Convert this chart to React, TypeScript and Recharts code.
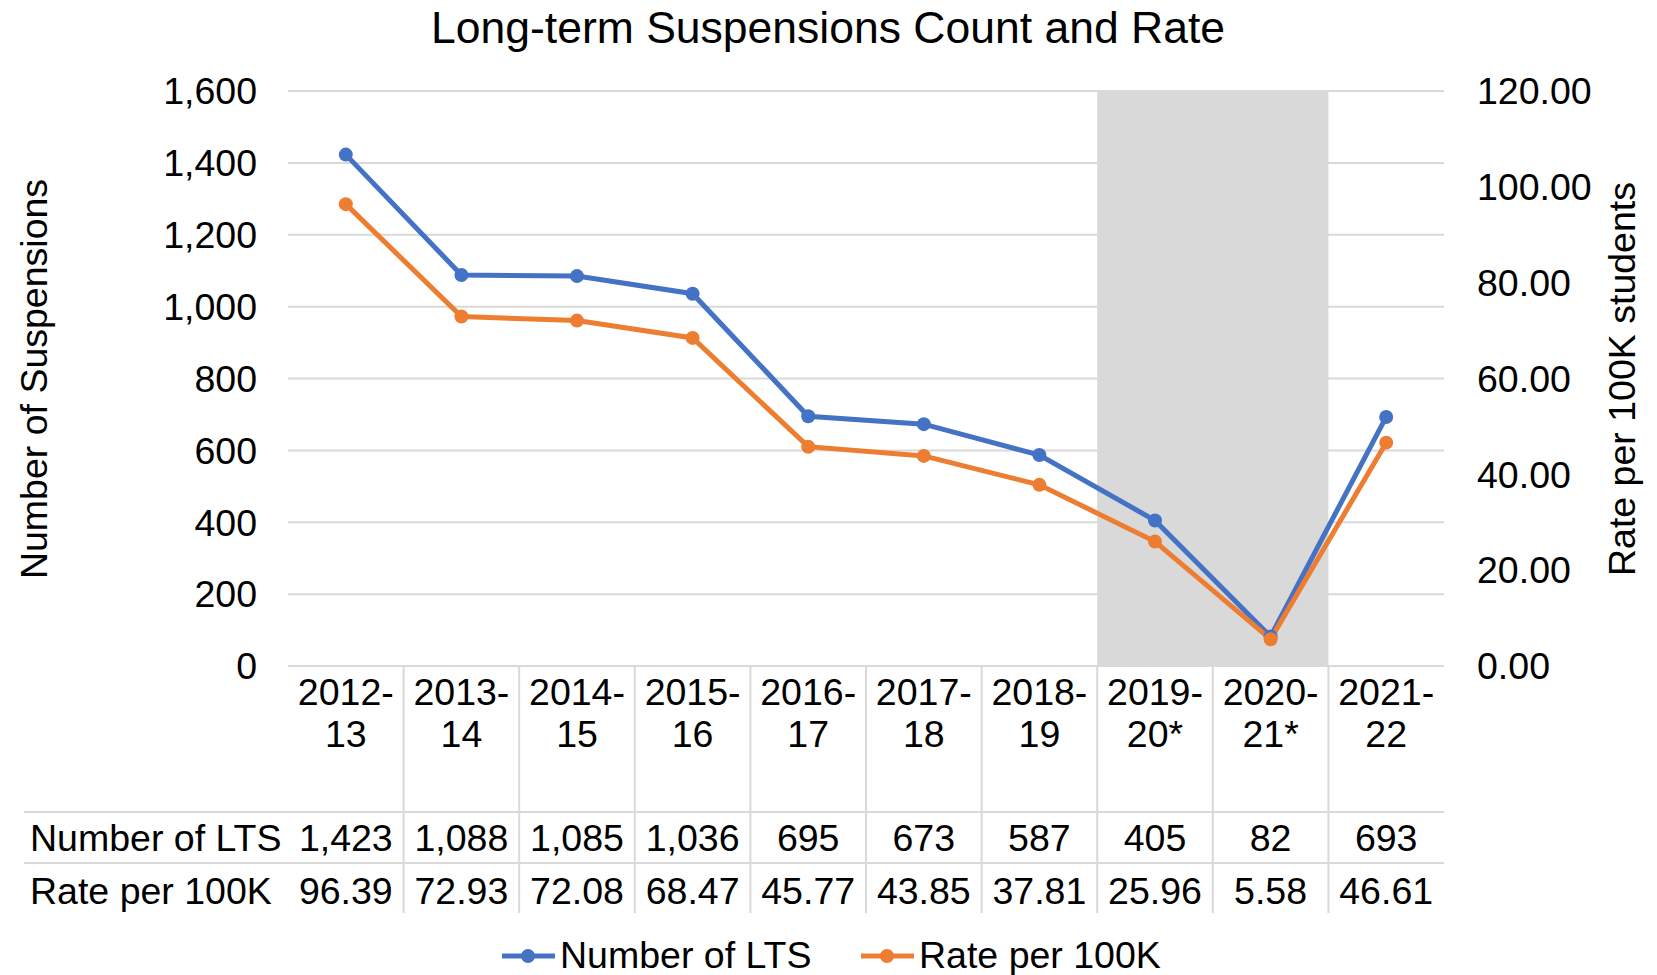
import { ComposedChart, Line, XAxis, YAxis, CartesianGrid, ReferenceArea, Customized } from 'recharts'

const YEARS = ['2012-13', '2013-14', '2014-15', '2015-16', '2016-17', '2017-18', '2018-19', '2019-20*', '2020-21*', '2021-22']
const LTS_COUNT = [1423, 1088, 1085, 1036, 695, 673, 587, 405, 82, 693]
const RATE_PER_100K = [96.39, 72.93, 72.08, 68.47, 45.77, 43.85, 37.81, 25.96, 5.58, 46.61]
const COUNT_TICKS = [0, 200, 400, 600, 800, 1000, 1200, 1400, 1600]
const RATE_TICKS = [0, 20, 40, 60, 80, 100, 120]
const SHADED_FROM = '2019-20*'
const SHADED_TO = '2020-21*'

const BLUE = '#4472C4'
const ORANGE = '#ED7D31'
const GRID = '#D9D9D9'
const FONT = '"Liberation Sans", Arial, sans-serif'
const FS = 37.5

const data = YEARS.map((year, i) => ({ year, count: LTS_COUNT[i], rate: RATE_PER_100K[i] }))

// x-axis tick that also draws its column of the data table
const TableTick = (props: any) => {
  const { x, y, payload, index } = props
  const half = payload?.offset ?? 57.8
  const label: string = payload.value
  const dash = label.indexOf('-')
  const top = label.slice(0, dash + 1)
  const bottom = label.slice(dash + 1)
  const left = x - half
  const right = x + half
  return (
    <g fontFamily={FONT} fontSize={FS} fill="#000">
      {index > 0 && <line x1={left} x2={left} y1={y} y2={y + 247} stroke={GRID} strokeWidth={2} />}
      <line x1={left} x2={right} y1={y + 146} y2={y + 146} stroke={GRID} strokeWidth={2} />
      <line x1={left} x2={right} y1={y + 197} y2={y + 197} stroke={GRID} strokeWidth={2} />
      <text x={x} y={y + 39} textAnchor="middle">{top}</text>
      <text x={x} y={y + 81} textAnchor="middle">{bottom}</text>
      <text x={x} y={y + 185} textAnchor="middle">{LTS_COUNT[index].toLocaleString('en-US')}</text>
      <text x={x} y={y + 238} textAnchor="middle">{RATE_PER_100K[index].toFixed(2)}</text>
      {index === 0 && (
        <>
          <line x1={24} x2={left} y1={y + 146} y2={y + 146} stroke={GRID} strokeWidth={2} />
          <line x1={24} x2={left} y1={y + 197} y2={y + 197} stroke={GRID} strokeWidth={2} />
          <text x={30} y={y + 185}>Number of LTS</text>
          <text x={30} y={y + 238}>Rate per 100K</text>
        </>
      )}
    </g>
  )
}

const Decorations = () => (
  <g fontFamily={FONT} fill="#000">
    <text x={828} y={43} textAnchor="middle" fontSize={44.5}>Long-term Suspensions Count and Rate</text>
    <text x={34} y={379} transform="rotate(-90 34 379)" textAnchor="middle" dominantBaseline="central" fontSize={FS}>
      Number of Suspensions
    </text>
    <text x={1622} y={379} transform="rotate(-90 1622 379)" textAnchor="middle" dominantBaseline="central" fontSize={FS}>
      Rate per 100K students
    </text>
    <line x1={502} x2={555} y1={956} y2={956} stroke={BLUE} strokeWidth={5} />
    <circle cx={528} cy={956} r={7} fill={BLUE} />
    <text x={560} y={968} fontSize={FS}>Number of LTS</text>
    <line x1={861} x2={914} y1={956} y2={956} stroke={ORANGE} strokeWidth={5} />
    <circle cx={887} cy={956} r={7} fill={ORANGE} />
    <text x={919} y={968} fontSize={FS}>Rate per 100K</text>
  </g>
)

export default function App() {
  return (
    <div style={{ position: 'absolute', left: 0, top: 0, width: 1657, height: 975, background: '#fff' }}>
      <ComposedChart width={1657} height={975} data={data} margin={{ top: 91, right: 0, bottom: 308, left: 0 }}>
        <CartesianGrid yAxisId="left" vertical={false} stroke={GRID} strokeWidth={2} />
        <XAxis
          dataKey="year"
          scale="band"
          interval={0}
          height={1}
          tickSize={0}
          tickMargin={0}
          axisLine={false}
          tickLine={false}
          tick={<TableTick />}
        />
        <YAxis
          yAxisId="left"
          width={288}
          domain={[0, 1600]}
          ticks={COUNT_TICKS}
          axisLine={false}
          tickLine={false}
          tickMargin={25}
          tick={{ fill: '#000', fontSize: FS, fontFamily: FONT }}
          tickFormatter={(v: number) => v.toLocaleString('en-US')}
        />
        <YAxis
          yAxisId="right"
          orientation="right"
          width={213}
          domain={[0, 120]}
          ticks={RATE_TICKS}
          axisLine={false}
          tickLine={false}
          tickMargin={27}
          tick={{ fill: '#000', fontSize: FS, fontFamily: FONT, textAnchor: 'start' }}
          tickFormatter={(v: number) => v.toFixed(2)}
        />
        <ReferenceArea yAxisId="left" x1={SHADED_FROM} x2={SHADED_TO} fill={GRID} fillOpacity={1} stroke="none" />
        <Line
          yAxisId="left"
          dataKey="count"
          stroke={BLUE}
          strokeWidth={5}
          dot={{ r: 7, fill: BLUE, stroke: 'none' }}
          activeDot={false}
          isAnimationActive={false}
        />
        <Line
          yAxisId="right"
          dataKey="rate"
          stroke={ORANGE}
          strokeWidth={5}
          dot={{ r: 7, fill: ORANGE, stroke: 'none' }}
          activeDot={false}
          isAnimationActive={false}
        />
        <Customized component={Decorations} />
      </ComposedChart>
    </div>
  )
}
